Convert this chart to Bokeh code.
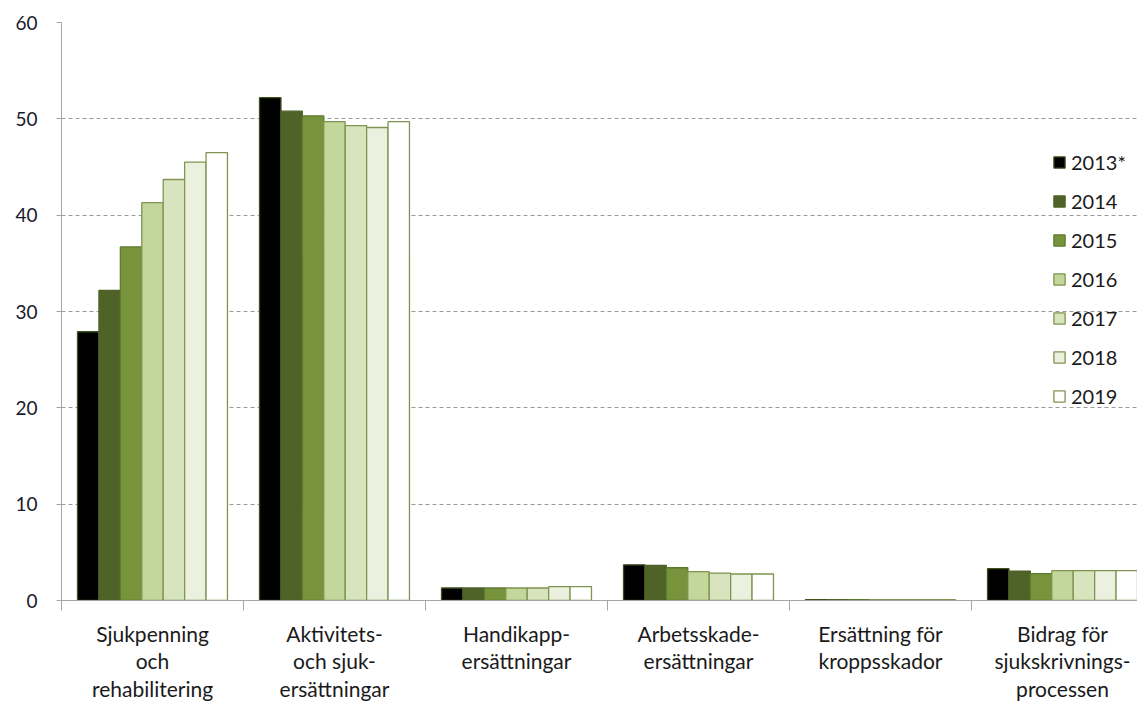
from bokeh.plotting import figure
from bokeh.models import Range1d, FixedTicker, Legend, LegendItem, ColumnDataSource
from bokeh.embed import file_html
from bokeh.resources import INLINE

categories = ["Sjukpenning\noch\nrehabilitering", "Aktivitets-\noch sjuk-\nersättningar",
              "Handikapp-\nersättningar", "Arbetsskade-\nersättningar",
              "Ersättning för\nkroppsskador", "Bidrag för\nsjukskrivnings-\nprocessen"]
years = ["2013*", "2014", "2015", "2016", "2017", "2018", "2019"]
v2013 = [27.9, 52.2, 1.3, 3.7, 0.1, 3.3]
v2014 = [32.2, 50.8, 1.3, 3.65, 0.1, 3.05]
v2015 = [36.7, 50.3, 1.3, 3.4, 0.1, 2.8]
v2016 = [41.3, 49.7, 1.3, 3.0, 0.1, 3.1]
v2017 = [43.7, 49.3, 1.3, 2.85, 0.1, 3.1]
v2018 = [45.5, 49.1, 1.45, 2.75, 0.1, 3.1]
v2019 = [46.5, 49.7, 1.45, 2.75, 0.1, 3.1]
series = [v2013, v2014, v2015, v2016, v2017, v2018, v2019]
y_ticks = [0, 10, 20, 30, 40, 50, 60]

fills = ["#000000", "#4F6228", "#77933C", "#C3D69B", "#D7E4BD", "#EBF1DE", "#FFFFFF"]
lines = ["#3E4F1E", "#4F6228", "#5E7A2E", "#7F9450", "#7F9450", "#7F9450", "#7F9450"]

FONT = "Lato"

p = figure(width=1137, height=703, output_backend="svg", toolbar_location=None,
           x_range=Range1d(0, 5.912), y_range=Range1d(0, 60),
           min_border_left=61, min_border_top=22, min_border_bottom=102, min_border_right=0)
p.outline_line_color = None
p.background_fill_color = "white"

ncat = len(categories)
bw = 0.1177
off = 0.088
items = []
for i, (yr, vals) in enumerate(zip(years, series)):
    xs = [c + off + bw * (i + 0.5) for c in range(ncat)]
    src = ColumnDataSource(dict(x=xs, top=vals))
    r = p.vbar(x="x", top="top", bottom=0, width=bw, source=src,
               fill_color=fills[i], line_color=lines[i], line_width=1.3)
    items.append(LegendItem(label=yr, renderers=[r]))

legend = Legend(items=items, location=(991, 192), background_fill_alpha=0,
                border_line_color=None, glyph_height=14, glyph_width=14,
                label_height=24, spacing=15, padding=0, margin=0,
                label_text_font=FONT, label_text_font_size="20px",
                label_text_color="#1a1a1a", label_standoff=5)
p.add_layout(legend)

# grid
p.xgrid.grid_line_color = None
p.ygrid.ticker = FixedTicker(ticks=y_ticks[1:])
p.ygrid.grid_line_color = "#9a9a9a"
p.ygrid.grid_line_dash = "4 3"
p.ygrid.grid_line_width = 1

# y axis
p.yaxis.ticker = FixedTicker(ticks=y_ticks)
p.yaxis.axis_line_color = "#a6a6a6"
p.yaxis.major_tick_line_color = "#a6a6a6"
p.yaxis.major_tick_out = 5
p.yaxis.major_tick_in = 0
p.yaxis.minor_tick_line_color = None
p.yaxis.major_label_text_font = FONT
p.yaxis.major_label_text_font_size = "19px"
p.yaxis.major_label_text_color = "#1a1a2a"
p.yaxis.major_label_standoff = 19

# x axis: ticks at category boundaries, labels at centres
centers = [c + 0.5 for c in range(ncat)]
p.xaxis.ticker = FixedTicker(ticks=centers, minor_ticks=list(range(ncat + 1)))
p.xaxis.major_label_overrides = {c + 0.5: categories[c] for c in range(ncat)}
p.xaxis.axis_line_color = "#a6a6a6"
p.xaxis.major_tick_line_color = None
p.xaxis.major_tick_out = 0
p.xaxis.major_tick_in = 0
p.xaxis.minor_tick_line_color = "#a6a6a6"
p.xaxis.minor_tick_out = 10
p.xaxis.minor_tick_in = 0
p.xaxis.major_label_text_font = FONT
p.xaxis.major_label_text_font_size = "21px"
p.xaxis.major_label_text_color = "#1a1a1a"
p.xaxis.major_label_standoff = 10
p.xaxis.major_label_text_line_height = 1.1

open("out.html", "w").write(file_html(p, INLINE))
